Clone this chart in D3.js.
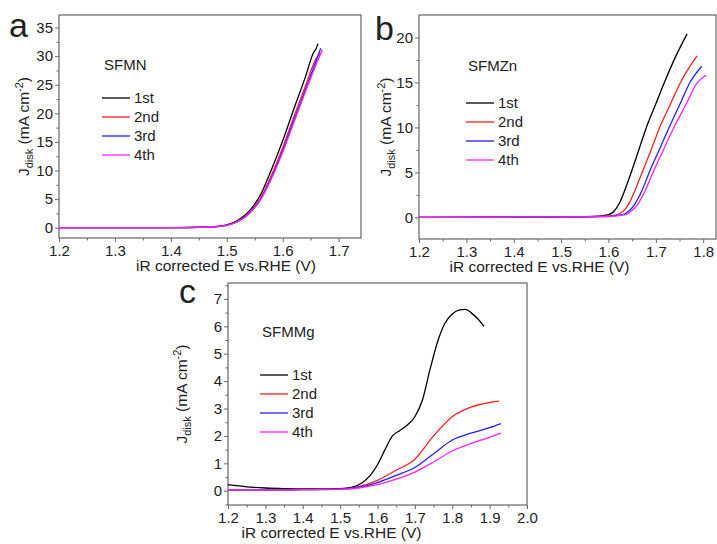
<!DOCTYPE html>
<html>
<head>
<meta charset="utf-8">
<script src="https://cdn.jsdelivr.net/npm/d3@7"></script>
<style>
  body { margin: 0; background: #fff; }
  svg text { font-family: "Liberation Sans", Arial, sans-serif; fill: #222; }
</style>
</head>
<body>
<svg id="chart" width="717" height="544"></svg>
<script>
const seriesNames = ['1st', '2nd', '3rd', '4th'];
const seriesColors = ['#000000', '#ff2020', '#2020ff', '#ff20ff'];

// panel a - SFMN
const sfmn1st = [[1.2,0],[1.3,0],[1.4,0.02],[1.45,0.08],[1.48,0.2],[1.5,0.5],[1.52,1.3],[1.54,2.9],[1.56,5.7],[1.58,10.2],[1.6,15.2],[1.62,20.8],[1.64,26.2],[1.655,30.6],[1.66,31.4],[1.663,32.2]];
const sfmn2nd = [[1.2,0],[1.3,0],[1.4,0.02],[1.45,0.07],[1.48,0.18],[1.5,0.45],[1.52,1.15],[1.54,2.6],[1.56,5.1],[1.58,9.2],[1.6,14.0],[1.62,19.4],[1.64,24.6],[1.66,29.6],[1.667,30.5]];
const sfmn3rd = [[1.2,0],[1.3,0],[1.4,0.02],[1.45,0.07],[1.48,0.17],[1.5,0.42],[1.52,1.1],[1.54,2.5],[1.56,4.9],[1.58,8.8],[1.6,13.5],[1.62,18.8],[1.64,24.0],[1.66,29.2],[1.668,31.4]];
const sfmn4th = [[1.2,0],[1.3,0],[1.4,0.02],[1.45,0.07],[1.48,0.17],[1.5,0.42],[1.52,1.08],[1.54,2.45],[1.56,4.8],[1.58,8.6],[1.6,13.2],[1.62,18.4],[1.64,23.6],[1.66,28.6],[1.671,31.1]];

// panel b - SFMZn
const sfmzn1st = [[1.2,0],[1.4,0.02],[1.5,0.05],[1.57,0.1],[1.6,0.3],[1.615,0.9],[1.625,1.8],[1.635,3.1],[1.648,5],[1.664,7.5],[1.68,10],[1.699,12.5],[1.718,15],[1.742,17.9],[1.766,20.4]];
const sfmzn2nd = [[1.2,0],[1.5,0.05],[1.6,0.15],[1.62,0.35],[1.635,0.9],[1.645,1.7],[1.656,3.0],[1.671,5],[1.69,7.5],[1.708,10],[1.73,12.5],[1.752,15],[1.787,17.95]];
const sfmzn3rd = [[1.2,0],[1.5,0.05],[1.6,0.12],[1.63,0.3],[1.645,0.8],[1.656,1.5],[1.67,2.9],[1.686,5],[1.707,7.5],[1.728,10],[1.75,12.5],[1.772,15],[1.797,16.8]];
const sfmzn4th = [[1.2,0],[1.5,0.05],[1.6,0.1],[1.635,0.3],[1.65,0.8],[1.661,1.4],[1.676,2.8],[1.694,5],[1.716,7.5],[1.738,10],[1.763,12.5],[1.788,15],[1.806,15.8]];

// panel c - SFMMg
const sfmmg1st = [[1.2,0.22],[1.25,0.14],[1.3,0.1],[1.35,0.08],[1.4,0.07],[1.45,0.07],[1.5,0.08],[1.53,0.12],[1.56,0.3],[1.58,0.55],[1.6,0.95],[1.62,1.5],[1.64,2.0],[1.66,2.2],[1.68,2.4],[1.7,2.7],[1.72,3.3],[1.74,4.4],[1.76,5.4],[1.78,6.1],[1.8,6.45],[1.82,6.6],[1.835,6.62],[1.85,6.5],[1.87,6.25],[1.885,6.0]];
const sfmmg2nd = [[1.2,0.03],[1.3,0.03],[1.4,0.04],[1.5,0.06],[1.55,0.15],[1.6,0.38],[1.65,0.75],[1.7,1.15],[1.75,2.0],[1.8,2.7],[1.85,3.05],[1.9,3.22],[1.925,3.27]];
const sfmmg3rd = [[1.2,0.03],[1.3,0.03],[1.4,0.04],[1.5,0.06],[1.55,0.13],[1.6,0.3],[1.65,0.56],[1.7,0.85],[1.75,1.35],[1.8,1.85],[1.85,2.1],[1.9,2.3],[1.93,2.45]];
const sfmmg4th = [[1.2,0.03],[1.3,0.03],[1.4,0.04],[1.5,0.05],[1.55,0.1],[1.6,0.22],[1.65,0.42],[1.7,0.68],[1.75,1.05],[1.8,1.45],[1.85,1.72],[1.9,1.95],[1.93,2.1]];

const aXTicks = [1.2, 1.3, 1.4, 1.5, 1.6, 1.7];
const aYTicks = [0, 5, 10, 15, 20, 25, 30, 35];
const bXTicks = [1.2, 1.3, 1.4, 1.5, 1.6, 1.7, 1.8];
const bYTicks = [0, 5, 10, 15, 20];
const cXTicks = [1.2, 1.3, 1.4, 1.5, 1.6, 1.7, 1.8, 1.9, 2.0];
const cYTicks = [0, 1, 2, 3, 4, 5, 6, 7];

const svg = d3.select('#chart');
const frameColor = '#666';

function drawPanel(p) {
  const x = d3.scaleLinear().domain(p.xDomain).range([p.left, p.right]);
  const y = d3.scaleLinear().domain(p.yDomain).range([p.bottom, p.top]);
  const g = svg.append('g');

  // minor ticks at midpoints
  const xStep = p.xTicks[1] - p.xTicks[0];
  const yStep = p.yTicks[1] - p.yTicks[0];
  const xMinor = p.xTicks.map(v => v + xStep / 2).filter(v => v < p.xDomain[1]);
  const yMinor = p.yTicks.map(v => v - yStep / 2).concat([p.yTicks[p.yTicks.length - 1] + yStep / 2])
                  .filter(v => v > p.yDomain[0] && v < p.yDomain[1]);

  const styleAxis = sel => {
    sel.select('.domain').remove();
    sel.selectAll('line').attr('stroke', frameColor);
    sel.selectAll('text').attr('font-size', 15).attr('fill', '#222')
      .style('font-family', '"Liberation Sans", Arial, sans-serif');
  };

  g.append('g')
    .attr('transform', 'translate(0,' + p.bottom + ')')
    .call(d3.axisBottom(x).tickValues(xMinor).tickSize(2.5).tickFormat(''))
    .call(styleAxis);
  g.append('g')
    .attr('transform', 'translate(' + p.left + ',0)')
    .call(d3.axisLeft(y).tickValues(yMinor).tickSize(2.5).tickFormat(''))
    .call(styleAxis);

  g.append('g')
    .attr('transform', 'translate(0,' + p.bottom + ')')
    .call(d3.axisBottom(x).tickValues(p.xTicks).tickSize(4).tickPadding(3).tickFormat(d3.format('.1f')))
    .call(styleAxis);
  g.append('g')
    .attr('transform', 'translate(' + p.left + ',0)')
    .call(d3.axisLeft(y).tickValues(p.yTicks).tickSize(4).tickPadding(2).tickFormat(d3.format('d')))
    .call(styleAxis);

  g.append('rect')
    .attr('x', p.left).attr('y', p.top)
    .attr('width', p.right - p.left).attr('height', p.bottom - p.top)
    .attr('fill', 'none').attr('stroke', frameColor).attr('stroke-width', 1.2);

  const line = d3.line()
    .x(d => x(d[0]))
    .y(d => y(d[1]))
    .curve(d3.curveMonotoneX);

  p.series.forEach((s, i) => {
    g.append('path')
      .datum(s)
      .attr('fill', 'none')
      .attr('stroke', seriesColors[i])
      .attr('stroke-width', 1.3)
      .attr('d', line);
  });

  // legend
  g.append('text')
    .attr('x', p.legendX).attr('y', p.titleY)
    .attr('font-size', 15)
    .text(p.name);
  seriesNames.forEach((n, i) => {
    const ly = p.legendY + i * 19;
    g.append('line')
      .attr('x1', p.legendX - 2).attr('x2', p.legendX + 26)
      .attr('y1', ly).attr('y2', ly)
      .attr('stroke', seriesColors[i]).attr('stroke-width', 1.3);
    g.append('text')
      .attr('x', p.legendX + 30).attr('y', ly + 5)
      .attr('font-size', 15)
      .text(n);
  });

  // axis titles
  g.append('text')
    .attr('x', (p.left + p.right) / 2 + p.xTitleShift).attr('y', p.bottom + 33)
    .attr('text-anchor', 'middle')
    .attr('font-size', 15.5)
    .text('iR corrected E vs.RHE (V)');

  const yt = g.append('text')
    .attr('transform', 'translate(' + p.yTitleX + ',' + ((p.top + p.bottom) / 2) + ') rotate(-90)')
    .attr('text-anchor', 'middle')
    .attr('font-size', 15.5);
  yt.append('tspan').text('J');
  yt.append('tspan').attr('font-size', 11).attr('dy', 4).text('disk');
  yt.append('tspan').attr('dy', -4).text(' (mA cm');
  yt.append('tspan').attr('font-size', 11).attr('dy', -6).text('-2');
  yt.append('tspan').attr('dy', 6).text(')');

  g.append('text')
    .attr('x', p.letterX).attr('y', p.letterY)
    .attr('font-size', 34)
    .attr('fill', '#111')
    .text(p.letter);
}

drawPanel({
  letter: 'a', letterX: 9, letterY: 37,
  name: 'SFMN', titleY: 70, legendX: 104, legendY: 98,
  left: 59, right: 361, top: 15, bottom: 238,
  xDomain: [1.2, 1.74], yDomain: [-1.8, 37.2],
  xTicks: aXTicks, yTicks: aYTicks, xTitleShift: 16, yTitleX: 29,
  series: [sfmn1st, sfmn2nd, sfmn3rd, sfmn4th]
});

drawPanel({
  letter: 'b', letterX: 375, letterY: 40,
  name: 'SFMZn', titleY: 71, legendX: 468, legendY: 103,
  left: 419, right: 716, top: 15, bottom: 239,
  xDomain: [1.2, 1.827], yDomain: [-2.4, 22.5],
  xTicks: bXTicks, yTicks: bYTicks, xTitleShift: -28, yTitleX: 391,
  series: [sfmzn1st, sfmzn2nd, sfmzn3rd, sfmzn4th]
});

drawPanel({
  letter: 'c', letterX: 179, letterY: 303,
  name: 'SFMMg', titleY: 337, legendX: 262, legendY: 375,
  left: 228, right: 527, top: 283, bottom: 505,
  xDomain: [1.2, 2.0], yDomain: [-0.52, 7.58],
  xTicks: cXTicks, yTicks: cYTicks, xTitleShift: -46, yTitleX: 187,
  series: [sfmmg1st, sfmmg2nd, sfmmg3rd, sfmmg4th]
});
</script>
</body>
</html>
